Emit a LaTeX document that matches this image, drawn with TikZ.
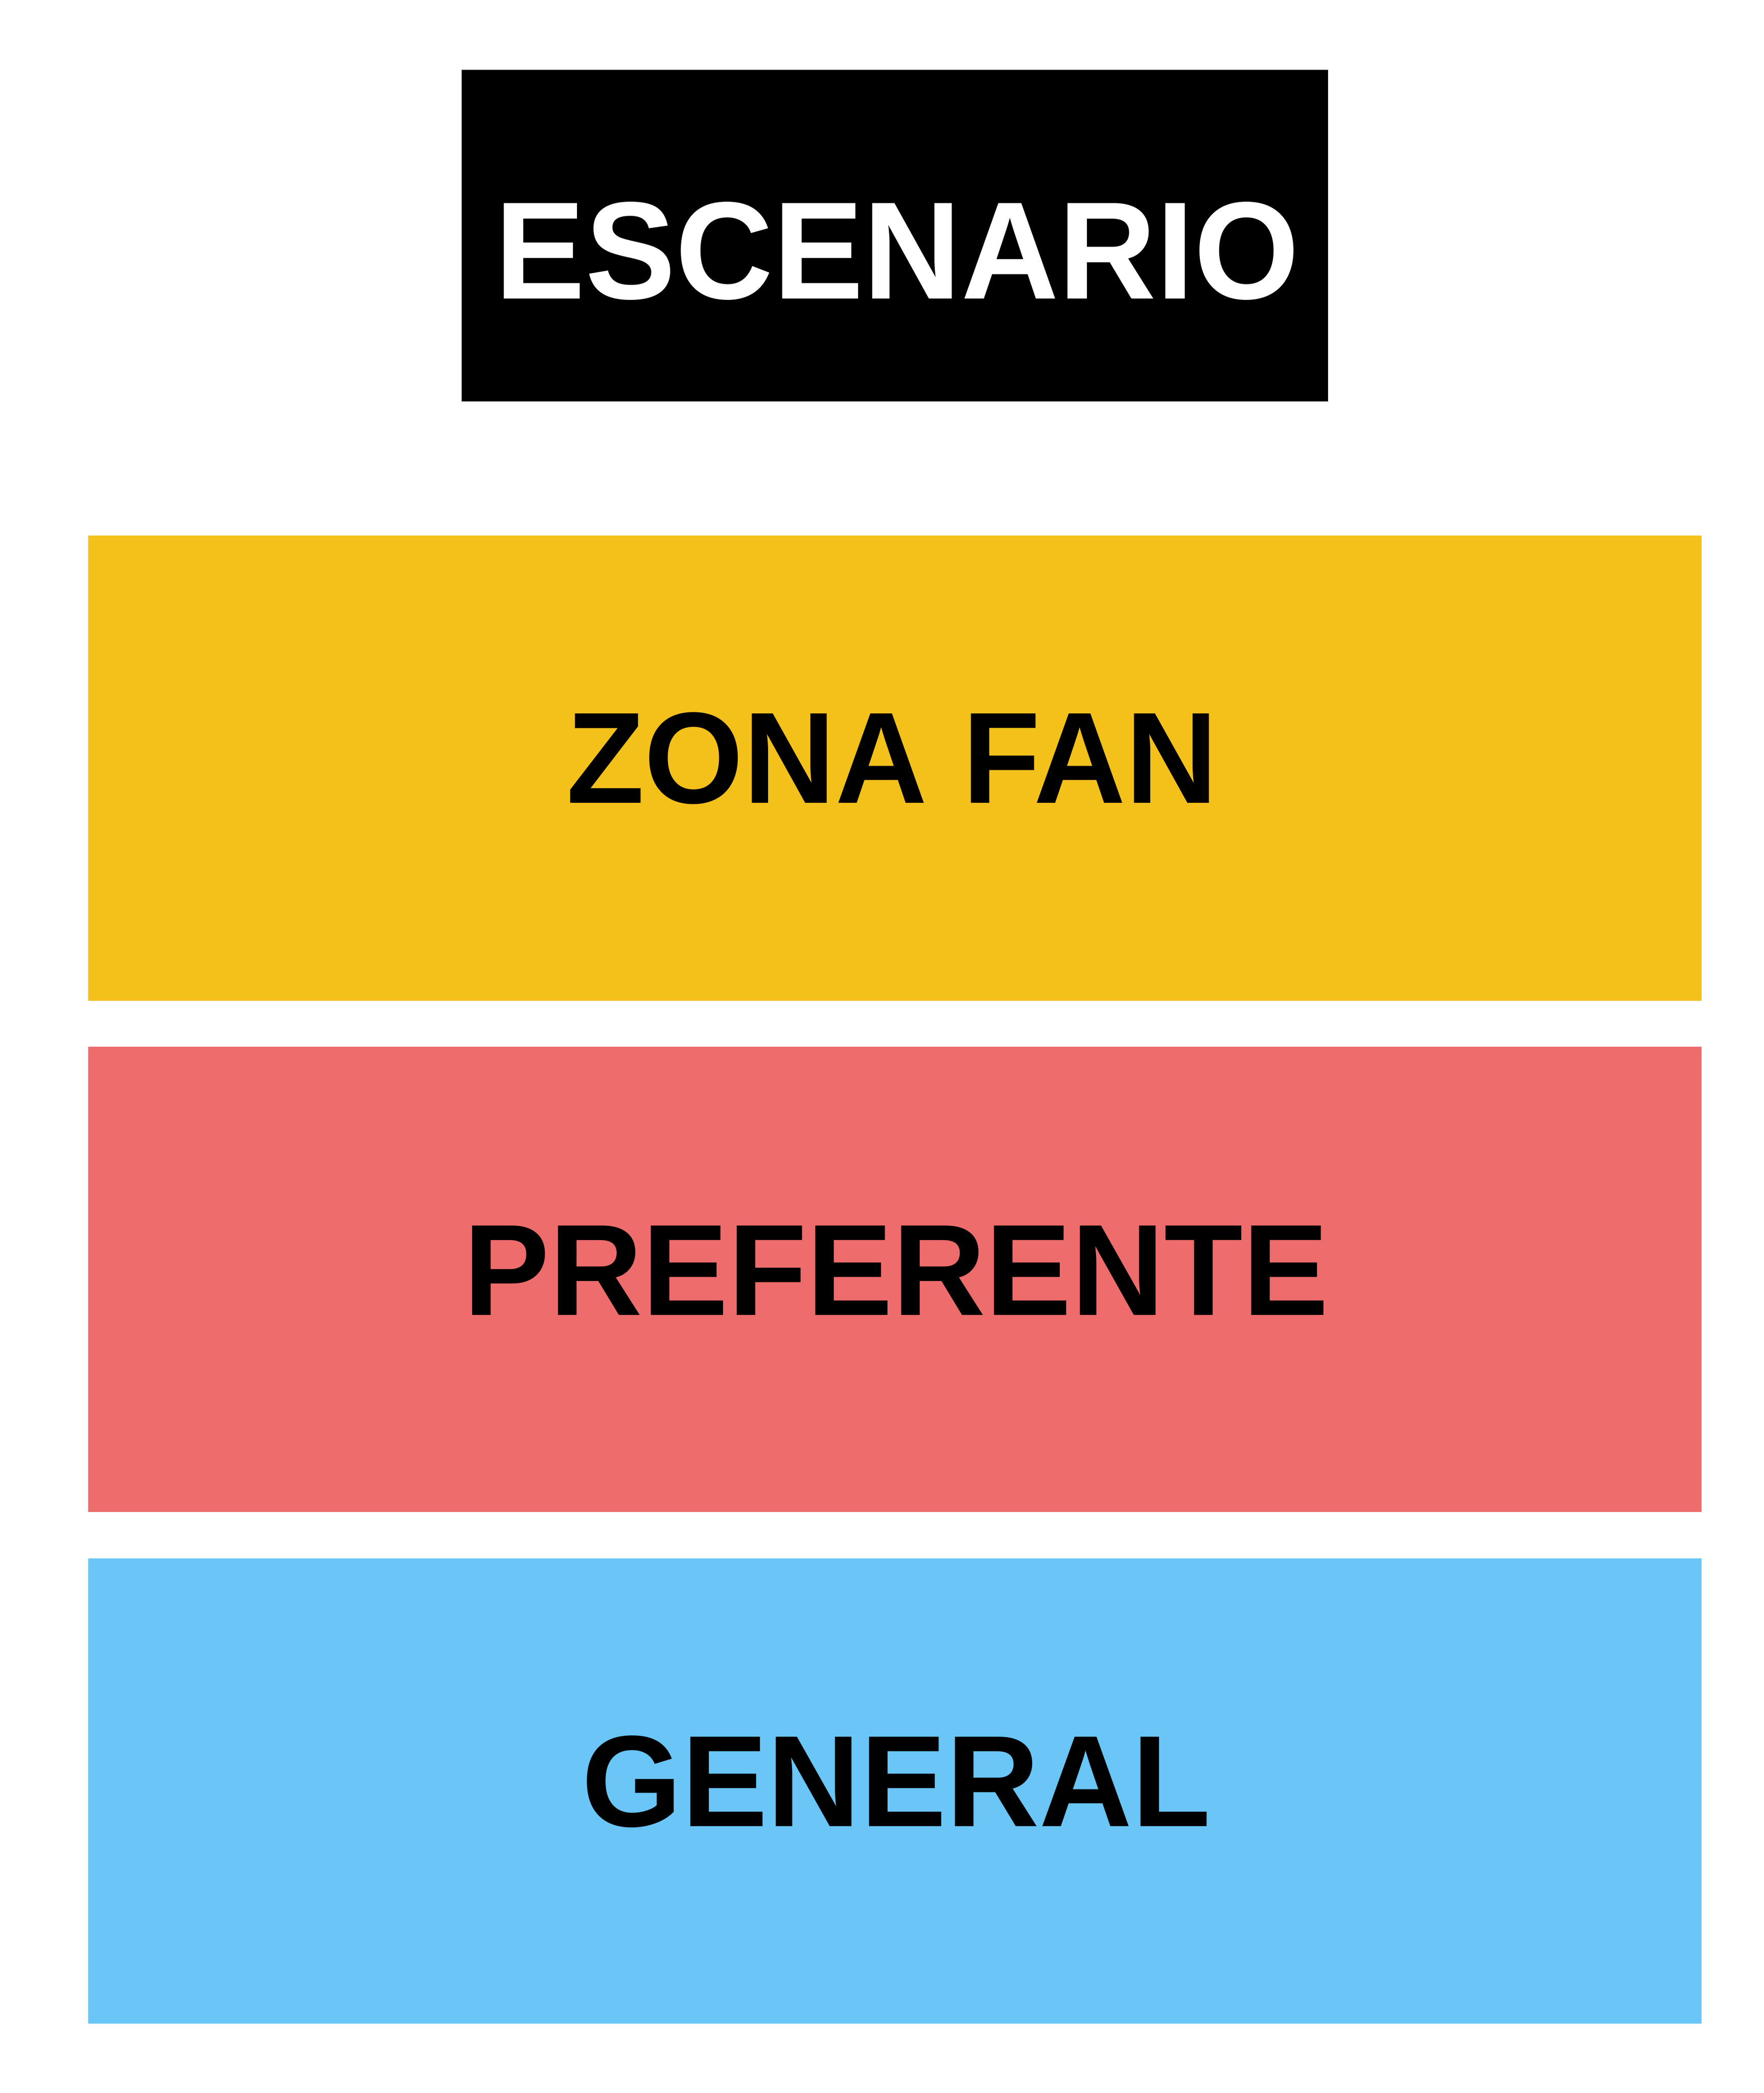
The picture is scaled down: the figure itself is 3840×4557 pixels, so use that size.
\documentclass[tikz,border=0pt]{standalone}
\usepackage{fontspec}
\setmainfont{Liberation Sans}
\definecolor{zyellow}{HTML}{F4C11B}
\definecolor{zred}{HTML}{EE6C6C}
\definecolor{zblue}{HTML}{69C6F7}
\begin{document}
\begin{tikzpicture}[x=0.1pt,y=-0.1pt,
  zone/.style={rectangle,draw=none,inner sep=0pt,outer sep=0pt,minimum width=351.2pt,minimum height=101.3pt},
  stagebox/.style={rectangle,fill=black,draw=none,inner sep=0pt,outer sep=0pt,minimum width=188.6pt,minimum height=72.2pt},
  zonelabel/.style={anchor=base,inner sep=0pt,font=\fontsize{28.3pt}{30pt}\selectfont\bfseries,text=black},
  stagelabel/.style={anchor=base,inner sep=0pt,font=\fontsize{30.2pt}{32pt}\selectfont\bfseries,text=white}]
\useasboundingbox[fill=white] (0,0) rectangle (3840,4557);
\node[stagebox] (stage) at (1948,513) {};
\node[stagelabel] (stagetxt) at (1953,650) {\scalebox{0.975}[1]{ESCENARIO}};
\node[zone,fill=zyellow] (fan) at (1948,1672.5) {};
\node[zonelabel] (fantxt) at (1942,1748) {\scalebox{0.98}[1]{ZONA FAN}};
\node[zone,fill=zred] (pref) at (1948,2785.5) {};
\node[zonelabel] (preftxt) at (1951,2863) {\scalebox{0.99}[1]{PREFERENTE}};
\node[zone,fill=zblue] (gen) at (1948,3899) {};
\node[zonelabel] (gentxt) at (1951,3976) {\scalebox{0.99}[1]{GENERAL}};
\end{tikzpicture}
\end{document}
